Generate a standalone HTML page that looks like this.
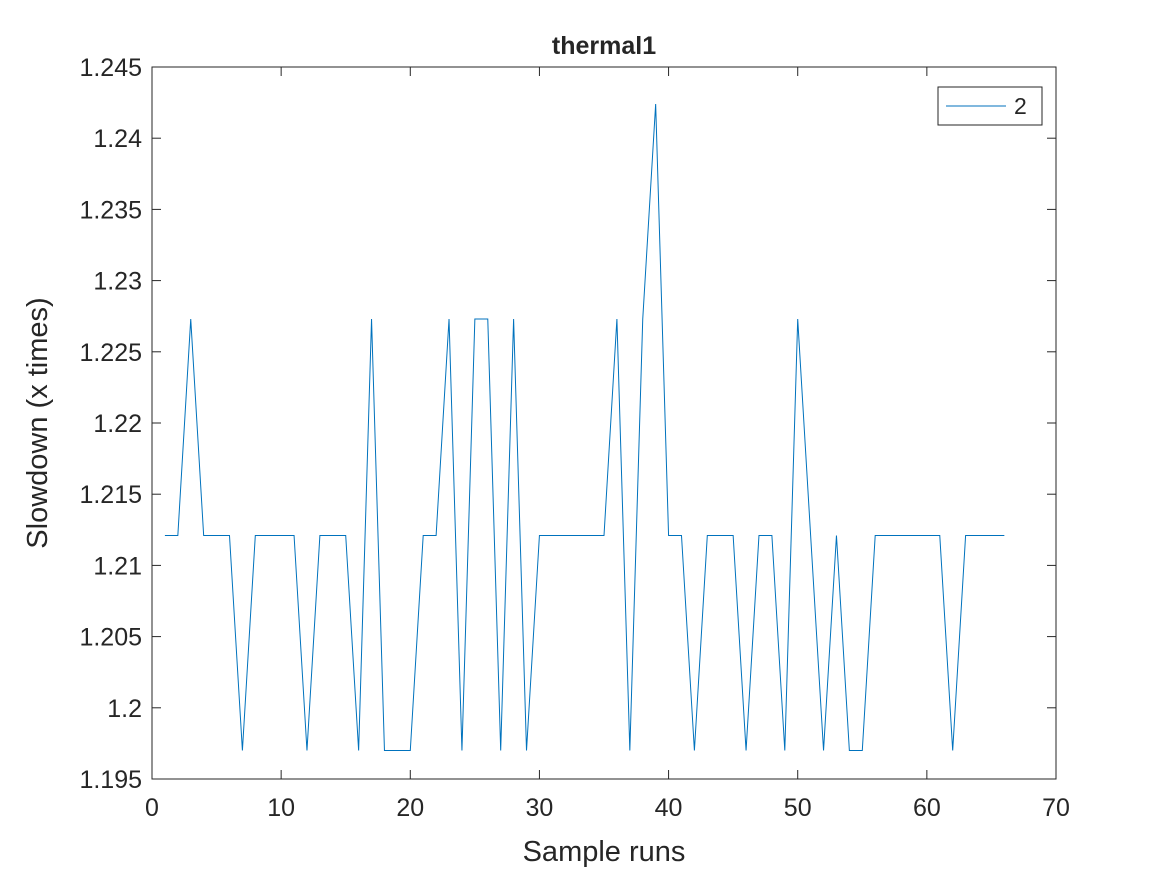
<!DOCTYPE html>
<html><head><meta charset="utf-8"><style>
body{margin:0;background:#fff;}
svg text{font-family:"Liberation Sans",sans-serif;fill:#262626;}
</style></head><body>
<svg id="chart" width="1167" height="875" xmlns="http://www.w3.org/2000/svg"></svg>
<script>
const xValues=[1,2,3,4,5,6,7,8,9,10,11,12,13,14,15,16,17,18,19,20,21,22,23,24,25,26,27,28,29,30,31,32,33,34,35,36,37,38,39,40,41,42,43,44,45,46,47,48,49,50,51,52,53,54,55,56,57,58,59,60,61,62,63,64,65,66];
const L=1.1970,M=1.2121,H=1.2273,P=1.2424;
const yValues=[M,M,H,M,M,M,L,M,M,M,M,L,M,M,M,L,H,L,L,L,M,M,H,L,H,H,L,H,L,M,M,M,M,M,M,H,L,H,P,M,M,L,M,M,M,L,M,M,L,H,M,L,M,L,L,M,M,M,M,M,M,L,M,M,M,M];
const xTicks=[0,10,20,30,40,50,60,70];
const yTicks=[1.195,1.2,1.205,1.21,1.215,1.22,1.225,1.23,1.235,1.24,1.245];
const yTickLabels=["1.195","1.2","1.205","1.21","1.215","1.22","1.225","1.23","1.235","1.24","1.245"];
const x0=152,x1=1056,y0=779,y1=67;
const xs=v=>x0+(v-0)/(70-0)*(x1-x0);
const ys=v=>y0-(v-1.195)/(1.245-1.195)*(y0-y1);
const svg=document.getElementById('chart');
const NS='http://www.w3.org/2000/svg';
function mk(t,a,txt){const e=document.createElementNS(NS,t);for(const k in a)e.setAttribute(k,a[k]);if(txt!==undefined)e.textContent=txt;svg.appendChild(e);return e;}
let e=mk('rect',{x:x0,y:y1,width:x1-x0,height:y0-y1,fill:'#fff',stroke:'#262626','stroke-width':1});


xTicks.forEach(t=>{const x=xs(t);
 mk('line',{x1:x,x2:x,y1:y0,y2:y0-9,stroke:'#262626'});
 mk('line',{x1:x,x2:x,y1:y1,y2:y1+9,stroke:'#262626'});
 const tx=mk('text',{x:x,y:y0+37,'text-anchor':'middle','font-size':25},String(t));
 
 
});
yTicks.forEach((t,i)=>{const y=ys(t);
 mk('line',{x1:x0,x2:x0+9,y1:y,y2:y,stroke:'#262626'});
 mk('line',{x1:x1,x2:x1-9,y1:y,y2:y,stroke:'#262626'});
 const tx=mk('text',{x:x0-10,y:y+9,'text-anchor':'end','font-size':25},yTickLabels[i]);
 
 
});
const pts=xValues.map((v,i)=>xs(v).toFixed(2)+','+ys(yValues[i]).toFixed(2)).join(' ');
e=mk('polyline',{points:pts,fill:'none',stroke:'#0072BD','stroke-width':1});


e=mk('text',{x:604,y:54,'text-anchor':'middle','font-size':25,'font-weight':'bold'},'thermal1');


e=mk('text',{x:604,y:861,'text-anchor':'middle','font-size':29},'Sample runs');


e=mk('text',{x:0,y:0,'text-anchor':'middle','font-size':29,transform:'translate(47,423) rotate(-90)'},'Slowdown (x times)');


e=mk('rect',{x:938,y:87,width:104,height:38,fill:'#fff',stroke:'#262626'});


e=mk('line',{x1:946,x2:1006,y1:106,y2:106,stroke:'#0072BD'});


e=mk('text',{x:1014,y:114,'font-size':23,fill:'#000'},'2');


</script>
</body></html>
